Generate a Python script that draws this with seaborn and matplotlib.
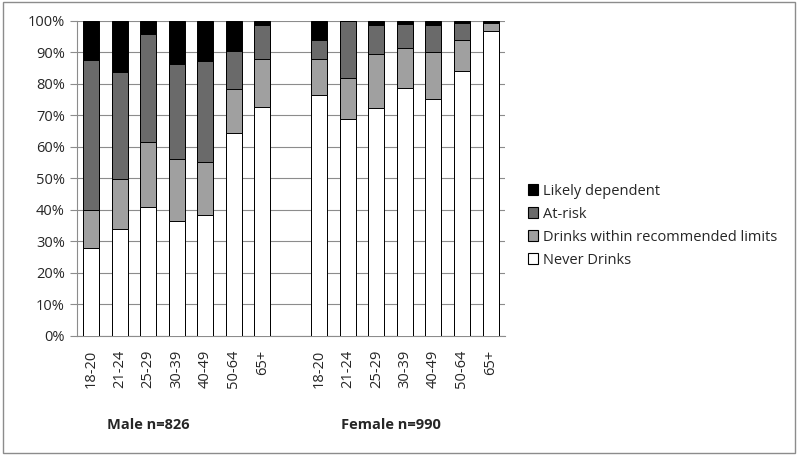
import numpy as np
import pandas as pd
import matplotlib
matplotlib.use('Agg')
import matplotlib.pyplot as plt
from matplotlib.patches import Patch, Rectangle
import seaborn as sns

# age groups, shown once for each sex
ages = ["18-20", "21-24", "25-29", "30-39", "40-49", "50-64", "65+"]
groups = ["Male n=826", "Female n=990"]

# percentages, per layer (bottom to top)
male_never = [27.8, 33.9, 40.9, 36.5, 38.4, 64.5, 72.6]
male_within = [12.2, 15.9, 20.7, 19.7, 16.8, 14.0, 15.4]
male_atrisk = [47.7, 34.0, 34.4, 30.0, 32.1, 11.9, 10.7]
male_dependent = [12.3, 16.2, 4.0, 13.8, 12.7, 9.6, 1.3]

female_never = [76.6, 68.9, 72.5, 78.8, 75.3, 84.2, 96.8]
female_within = [11.4, 13.1, 16.9, 12.7, 14.9, 9.6, 2.5]
female_atrisk = [6.1, 18.0, 9.4, 7.6, 8.4, 5.5, 0.5]
female_dependent = [5.9, 0.0, 1.2, 0.9, 1.4, 0.7, 0.2]

series = ["Never Drinks", "Drinks within recommended limits", "At-risk", "Likely dependent"]
colors = ["#ffffff", "#a0a0a0", "#6a6a6a", "#000000"]

# build long table with a cumulative top for each layer
keys_m = ["M " + a for a in ages]
keys_f = ["F " + a for a in ages]
order = keys_m + ["gap"] + keys_f

rows = []
for keys, layers in [(keys_m, [male_never, male_within, male_atrisk, male_dependent]),
                     (keys_f, [female_never, female_within, female_atrisk, female_dependent])]:
    cum = np.cumsum(np.array(layers), axis=0)
    for si, name in enumerate(series):
        for k, v in zip(keys, cum[si]):
            rows.append({"slot": k, "series": name, "top": v})
df = pd.DataFrame(rows)

sns.set_style("white")
plt.rcParams['font.family'] = ['Open Sans', 'DejaVu Sans']

fig = plt.figure(figsize=(8, 4.55), dpi=100)
ax = fig.add_axes([0.096, 0.262, 0.535, 0.692])

# draw from the top layer down so lower layers sit in front
for name, col in reversed(list(zip(series, colors))):
    sub = df[df["series"] == name]
    sns.barplot(data=sub, x="slot", y="top", order=order, color=col,
                width=0.56, edgecolor="black", linewidth=0.7,
                saturation=1, ax=ax, zorder=3)

ax.set_ylim(0, 100)
ax.set_xlim(-0.5, len(order) - 0.5)
ax.set_yticks(np.arange(0, 101, 10))
ax.set_yticklabels([f"{t}%" for t in range(0, 101, 10)], fontsize=10.5)
ax.yaxis.grid(True, color="#8c8c8c", linewidth=0.8, zorder=0)
ax.set_axisbelow(True)

ax.set_xticks(range(len(order)))
ax.set_xticklabels(ages + [""] + ages, rotation=90, fontsize=10.5)
ax.tick_params(axis="x", which="major", length=0, pad=10)
ax.set_xticks(np.arange(-0.5, len(order), 1), minor=True)
ax.tick_params(axis="x", which="minor", length=6, color="#8c8c8c", direction="out")
ax.tick_params(axis="y", length=5, color="#8c8c8c", direction="out", left=True)
ax.set_xlabel("")
ax.set_ylabel("")

for s in ["top", "right"]:
    ax.spines[s].set_visible(False)
for s in ["left", "bottom"]:
    ax.spines[s].set_color("#8c8c8c")
    ax.spines[s].set_linewidth(0.8)

# group captions under the tick labels
trans = matplotlib.transforms.blended_transform_factory(ax.transData, ax.transAxes)
ax.text(2.0, -0.283, groups[0], transform=trans, ha="center", va="center",
        fontsize=10.5, fontweight="bold")
ax.text(10.5, -0.283, groups[1], transform=trans, ha="center", va="center",
        fontsize=10.5, fontweight="bold")

handles = [Patch(facecolor=c, edgecolor="black", linewidth=0.8, label=n)
           for n, c in zip(series, colors)]
fig.legend(handles=handles[::-1], loc="upper left", bbox_to_anchor=(0.643, 0.625),
           frameon=False, fontsize=10.5, handlelength=0.75, handleheight=0.75,
           handletextpad=0.3, labelspacing=0.55)

fig.patches.append(Rectangle((0.004, 0.005), 0.99, 0.99, transform=fig.transFigure,
                             fill=False, edgecolor="#8c8c8c", linewidth=1))

fig.savefig("out.png", dpi=100)
